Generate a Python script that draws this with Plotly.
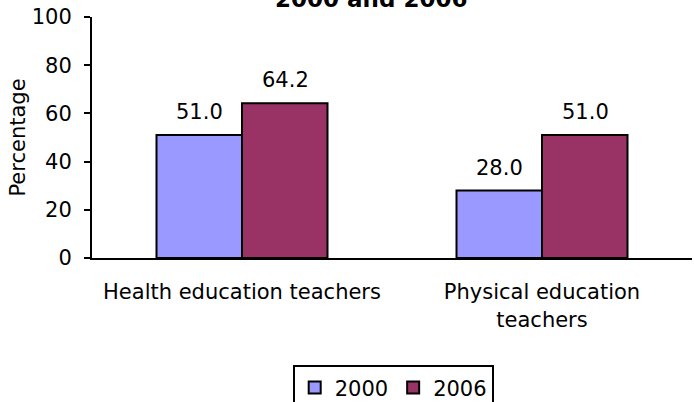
import plotly.graph_objects as go

categories = ["Health education teachers", "Physical education<br>teachers"]
years = ["2000", "2006"]
values_2000 = [51.0, 28.0]
values_2006 = [64.2, 51.0]
colors = ["#9999FF", "#993366"]
y_ticks = [0, 20, 40, 60, 80, 100]

FONT = "DejaVu Sans, Verdana, sans-serif"
FS = 21

fig = go.Figure()
series = [values_2000, values_2006]
for name, vals, col in zip(years, series, colors):
    fig.add_trace(go.Bar(
        x=categories, y=vals, name=name,
        marker=dict(color=col, line=dict(color="black", width=2)),
    ))

# data labels
shifts = [-43, 43]
for vals, sh in zip(series, shifts):
    for c, v in zip(categories, vals):
        fig.add_annotation(x=c, y=v, xref="x", yref="y", text=f"{v:.1f}",
                           showarrow=False, xshift=sh, yanchor="bottom", yshift=9,
                           font=dict(family=FONT, size=FS, color="black"))

# visible (clipped) bottom line of the title
fig.add_annotation(x=0.465, y=1.0, xref="paper", yref="paper", text="<b>2000 and 2006</b>",
                   showarrow=False, xanchor="center", yanchor="bottom", yshift=3,
                   font=dict(family=FONT, size=23, color="black"))

fig.update_layout(
    width=694, height=402,
    margin=dict(l=92, r=2, t=17, b=144, autoexpand=False),
    paper_bgcolor="white", plot_bgcolor="white",
    barmode="group", bargap=0.43, bargroupgap=0,
    font=dict(family=FONT, size=FS, color="black"),
    showlegend=True,
    legend=dict(orientation="h", x=0.502, y=-0.445, xanchor="center", yanchor="top",
                bordercolor="black", borderwidth=2, bgcolor="white",
                font=dict(family=FONT, size=FS), itemwidth=30, tracegroupgap=0),
)
fig.update_xaxes(showline=True, linecolor="black", linewidth=2, ticks="",
                 showgrid=False, ticklabelstandoff=14, automargin=False,
                 tickfont=dict(family=FONT, size=FS))
fig.update_yaxes(range=[0, 100], tickvals=y_ticks, showline=True, linecolor="black",
                 linewidth=2, ticks="outside", ticklen=6, tickwidth=2, tickcolor="black",
                 showgrid=False, zeroline=False, ticklabelstandoff=8, automargin=False,
                 title=dict(text="Percentage", font=dict(family=FONT, size=FS), standoff=0),
                 tickfont=dict(family=FONT, size=FS))

fig.write_html("out.html", config={"displayModeBar": False},
               post_script="document.body.style.margin='0';document.body.style.overflow='hidden';")
